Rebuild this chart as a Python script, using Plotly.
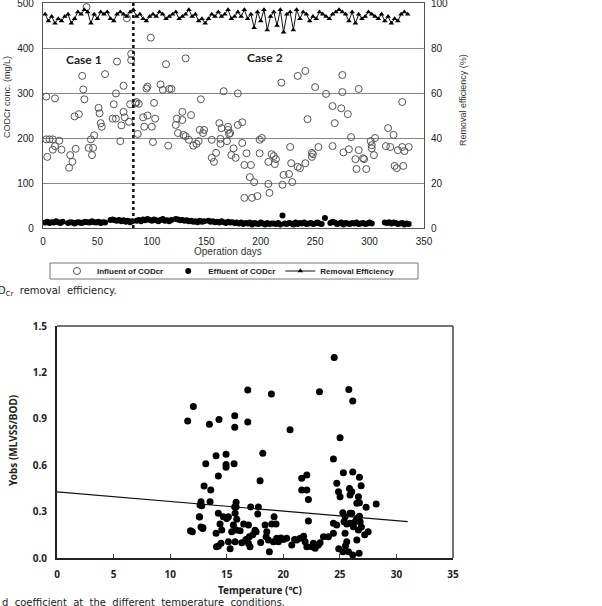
import plotly.graph_objects as go

W, H = 602, 606

# ---------------- Top chart data ----------------
infl_days = [3, 11, 3, 6, 9, 15, 11, 9, 17, 4, 24, 27, 25, 30, 29, 33, 36, 37, 38, 40, 42, 44, 45, 46, 47,
             51, 52, 53, 54, 57, 64, 65, 67, 67, 68, 71, 72, 74, 74, 75, 77, 79, 80, 81, 81, 85, 86, 87, 88,
             92, 93, 95, 96, 96, 99, 100, 101, 102, 103, 108, 110, 113, 115, 116, 118,
             122, 123, 128, 128, 131, 136, 124, 129, 131, 134, 138, 141, 143, 144, 147, 148, 145, 155, 155,
             157, 159, 162, 163, 163, 164, 166, 169, 170, 170, 171, 172, 173, 175, 177, 179, 179, 183, 183,
             185, 185, 187, 190, 191, 192, 194, 197, 199, 199, 201, 207, 207, 208, 210, 212, 213, 214, 219,
             220, 221, 226, 227, 228, 229, 234, 234,
             236, 241, 241, 243, 247, 247, 248, 250, 253, 260, 266, 266, 268, 274, 275, 275, 276, 280, 281,
             283, 287, 288, 290, 290, 294, 295, 297, 301, 302, 302, 304, 305, 315, 317, 319, 322, 323, 325,
             326, 330, 330, 331, 332, 336]
infl_vals = [292, 288, 197, 197, 197, 194, 182, 174, 174, 158, 134, 147, 162, 176, 248, 253, 338, 308, 286, 491,
             178, 197, 162, 178, 206,
             267, 255, 233, 225, 342, 243, 275, 299, 243, 370, 193, 228, 316, 258, 246, 466, 236, 275, 387, 373,
             277, 280, 209, 276,
             246, 225, 310, 314, 250, 423, 225, 191, 278, 243, 319, 307, 364, 183, 309, 309,
             229, 243, 258, 240, 377, 251, 211, 207, 204, 196, 183, 187, 193, 218, 211, 218, 286, 196, 156,
             147, 167, 233, 198, 187, 222, 304, 193, 225, 218, 209, 211, 162, 177, 156, 229, 299, 235, 189,
             140, 67, 166, 113, 140, 67, 102, 71, 196, 166, 200, 147, 98, 78, 164, 160, 142, 153, 323,
             96, 118, 120, 180, 144, 102, 136, 338,
             133, 349, 144, 242, 167, 158, 164, 313, 180, 298, 271, 182, 233, 266, 340, 302, 168, 253, 175,
             202, 153, 131, 309, 173, 155, 153, 131, 193, 184, 177, 162, 200, 182, 222, 180, 207, 138, 133,
             173, 180, 280, 138, 171, 180]

effl_days = [2, 4, 6, 8, 10, 12, 14, 16, 18,
             23, 25, 27, 29, 31, 33, 35, 37, 39, 41, 43, 45, 47, 49, 51, 53, 55, 57,
             62, 64, 66, 68, 70, 72, 74, 76, 78, 80, 82,
             86, 88, 90, 92, 94, 96, 98, 100, 102, 104, 106, 108, 110, 112, 114, 116, 118,
             122, 124, 126, 128, 130, 132, 134, 136, 138, 140, 142, 144, 146, 148,
             152, 154, 156, 158, 160, 162, 164, 166, 168, 170, 172, 174, 176, 178, 180, 182, 184, 186, 188,
             190, 192, 194, 196, 198, 200, 202, 204, 206, 208, 210,
             212, 214, 216, 218, 220, 222, 224, 226, 228, 230, 232, 234, 236, 238, 240, 242, 244, 246, 248,
             250, 252, 254, 256,
             259,
             264, 266, 268, 270, 272, 274, 276, 278, 280, 282, 284, 286, 288, 290, 292, 294, 296, 298, 300, 302,
             314, 316, 318, 320, 322, 324, 326, 328, 330, 332, 334, 336]
effl_vals = [12, 14, 11, 13, 12, 15, 13, 11, 14,
             11, 13, 12, 10, 12, 13, 11, 12, 14, 13, 12, 15, 13, 12, 14, 11, 13, 12,
             18, 19, 17, 16, 18, 15, 17, 14, 16, 13, 15,
             16, 18, 15, 19, 17, 20, 18, 16, 19, 17, 15, 18, 20, 16, 17, 15, 18,
             20, 19, 17, 18, 16, 17, 15, 16, 14, 15, 13, 16, 14, 15,
             16, 14, 15, 13, 14, 12, 15, 13, 11, 14, 12, 13, 11, 12, 10, 12, 9, 11, 10,
             12, 8, 11, 10, 9, 12, 10, 8, 11, 9, 10,
             10, 9, 11, 8, 28, 10, 9, 11, 10, 8, 12, 9, 11, 10, 12, 9, 10, 11, 9,
             10, 12, 10, 9,
             22,
             11, 14, 12, 9, 10, 12, 8, 11, 10, 9, 11, 10, 12, 9, 10, 11, 9, 10, 12, 10,
             12, 11, 13, 10, 12, 11, 9, 10, 11, 8, 10, 9]

eff_days = [2, 5, 8, 11, 14, 17, 20, 23, 26, 29, 32, 35, 38, 41, 44, 47, 50, 53, 56, 59,
            62, 65, 68, 71, 74, 77, 80, 83, 86, 89, 92, 95, 98, 101, 104, 107, 110, 113, 116, 119,
            122, 125, 128, 131, 134, 137, 140, 143, 146, 149, 152, 155, 158, 161, 164, 167, 170, 173, 176, 179,
            182, 185, 188, 191, 194, 197, 200, 203, 206, 209, 212, 215, 218, 221, 224, 227, 230, 233, 236, 239,
            242, 245, 248, 251, 254, 257, 260, 263, 266, 269, 272, 275, 278, 281, 284, 287, 290, 293, 296, 299,
            302, 305, 308, 311, 314, 317, 320, 323, 326, 329, 332, 335]
eff_vals = [95, 92, 94, 91, 93, 92, 94, 95, 91, 93,
            96, 95, 97, 96, 91, 95, 93, 96, 95, 96,
            93, 92, 95, 96, 95, 94, 96, 97, 94, 95,
            93, 92, 94, 95, 94, 96, 95, 93, 94, 95,
            96, 93, 94, 95, 97, 94, 95, 92, 93, 91,
            93, 95, 94, 96, 94, 95, 97, 93, 94, 96,
            94, 97, 93, 95, 89, 96, 92, 97, 88, 94,
            96, 90, 97, 87, 95, 96, 88, 97, 93, 96,
            95, 92, 94, 93, 96, 95, 94, 93, 95, 96,
            97, 96, 95, 92, 96, 91, 95, 93, 94, 96,
            95, 94, 93, 95, 92, 94, 91, 93, 92, 95,
            96, 95]

CASE_SPLIT_DAY = 83
case_labels = ["Case 1", "Case 2"]
case_label_days = [38, 204]
case_label_vals = [375, 378]

# ---------------- Bottom chart data ----------------
temp_vals = [11.55, 12.05, 13.47, 14.32, 15.71, 15.71, 16.86, 16.86, 18.95, 20.6, 23.2, 24.5, 25.79, 26.14, 25.02,
             14.06, 14.94, 18.19, 13.15, 14.94, 14.94, 15.65, 14.26, 17.95, 24.43, 25.31, 26.14, 26.73, 26.88,
             24.73, 24.88, 25.02, 25.85, 26.05, 25.9, 26.64, 26.5, 26.73, 27.32, 28.21, 21.63, 22.08, 21.63,
             22.08, 22.22, 13.0, 13.59, 12.73, 12.79, 13.53, 12.64, 15.83, 15.83, 17.12,
             12.58, 12.73, 11.96, 12.88, 11.8, 12.6, 12.9, 14.26, 14.7, 15.15, 14.41, 15.74, 15.89, 15.59,
             14.06, 14.56, 14.26, 14.5, 15.15, 15.44, 15.83, 16.18, 15.74, 16.33, 16.92, 17.0, 16.92, 17.06,
             17.74, 17.8, 18.39, 18.54, 18.98, 19.36, 19.19, 18.48, 18.68, 18.77, 19.13, 19.42, 19.57, 20.3,
             20.75, 21.19, 21.49, 21.93, 22.22, 22.66, 22.81, 23.1, 23.25, 23.55, 23.99, 22.52, 22.08, 24.43,
             24.72, 24.43, 25.37, 25.46, 25.9, 25.9, 26.2, 25.46, 25.61, 25.26, 25.76, 26.14, 26.5, 26.64,
             26.5, 25.26, 26.05, 26.73, 26.79, 26.35, 25.61,
             14.1, 16.7, 17.3, 18.0, 19.8, 20.0, 21.0, 21.8, 24.9, 25.5, 26.9, 27.2, 27.5, 26.7, 17.5, 16.5,
             15.3, 15.0, 17.6, 15.7]
yobs_vals = [0.885, 0.98, 0.864, 0.896, 0.92, 0.845, 1.086, 0.88, 1.06, 0.83, 1.075, 1.297, 1.09, 1.015, 0.778,
             0.661, 0.67, 0.677, 0.61, 0.605, 0.586, 0.61, 0.53, 0.5, 0.64, 0.551, 0.556, 0.522, 0.467,
             0.483, 0.429, 0.396, 0.45, 0.429, 0.407, 0.396, 0.354, 0.357, 0.328, 0.349, 0.515, 0.537, 0.44,
             0.44, 0.379, 0.465, 0.44, 0.364, 0.338, 0.364, 0.343, 0.36, 0.33, 0.33,
             0.267, 0.2, 0.17, 0.19, 0.176, 0.265, 0.196, 0.289, 0.267, 0.267, 0.22, 0.289, 0.25, 0.213,
             0.16, 0.181, 0.078, 0.095, 0.105, 0.17, 0.181, 0.176, 0.105, 0.099, 0.213, 0.138, 0.095, 0.073,
             0.284, 0.33, 0.213, 0.17, 0.22, 0.22, 0.267, 0.138, 0.116, 0.04, 0.105, 0.127, 0.105, 0.127,
             0.084, 0.116, 0.127, 0.105, 0.239, 0.095, 0.063, 0.084, 0.099, 0.138, 0.138, 0.073, 0.073, 0.224,
             0.213, 0.16, 0.235, 0.267, 0.289, 0.224, 0.202, 0.16, 0.105, 0.04, 0.04, 0.019, 0.256, 0.181,
             0.116, 0.293, 0.289, 0.27, 0.235, 0.235, 0.22,
             0.073, 0.12, 0.15, 0.1, 0.13, 0.12, 0.12, 0.14, 0.06, 0.08, 0.2, 0.15, 0.17, 0.03, 0.18, 0.22,
             0.06, 0.256, 0.17, 0.33]

fit_temp = [0, 31]
fit_yobs = [0.428, 0.235]

# ---------------- Figure ----------------
def px_x(p):
    return p / W

def px_y(p):
    return 1 - p / H

fig = go.Figure()

fig.add_trace(go.Scatter(x=infl_days, y=infl_vals, mode="markers", name="<b>Influent of CODcr</b>",
                         marker=dict(symbol="circle-open", size=7, color="#555", line=dict(width=1, color="#555")),
                         xaxis="x", yaxis="y"))
fig.add_trace(go.Scatter(x=effl_days, y=effl_vals, mode="markers", name="<b>Effluent of CODcr</b>",
                         marker=dict(symbol="circle", size=6, color="#000"),
                         xaxis="x", yaxis="y"))
fig.add_trace(go.Scatter(x=eff_days, y=eff_vals, mode="lines+markers", name="<b>Removal Efficiency</b>",
                         line=dict(color="#111", width=1),
                         marker=dict(symbol="triangle-up", size=5, color="#000"),
                         xaxis="x", yaxis="y2"))

fig.add_trace(go.Scatter(x=temp_vals, y=yobs_vals, mode="markers", showlegend=False,
                         marker=dict(symbol="circle", size=7, color="#000"),
                         xaxis="x3", yaxis="y3"))
fig.add_trace(go.Scatter(x=fit_temp, y=fit_yobs, mode="lines", showlegend=False,
                         line=dict(color="#111", width=1.2),
                         xaxis="x3", yaxis="y3"))

top_font = dict(family="Liberation Sans, Arial", size=10, color="#222")
bot_font = dict(family="Noto Sans, DejaVu Sans", size=10, color="#222", weight="bold")

fig.update_layout(
    width=W, height=H,
    margin=dict(l=0, r=0, t=0, b=0, autoexpand=False),
    paper_bgcolor="white", plot_bgcolor="white",
    showlegend=True,
    legend=dict(orientation="h", x=px_x(57), y=px_y(271), xanchor="left", yanchor="middle",
                borderwidth=0, bgcolor="rgba(0,0,0,0)",
                font=dict(family="Liberation Sans, Arial", size=8, color="#222"),
                tracegroupgap=0, itemwidth=30),
    xaxis=dict(domain=[px_x(43), px_x(424)], range=[0, 350], dtick=50, anchor="y", automargin=False,
               showline=True, mirror=True, linecolor="#555", linewidth=1.2, ticks="",
               showgrid=False, zeroline=False, tickfont=top_font, ticklabelstandoff=4,
               ticklabeloverflow="allow"),
    yaxis=dict(domain=[px_y(228), px_y(3)], range=[0, 500], dtick=100, anchor="x", automargin=False,
               showline=True, mirror=True, linecolor="#555", linewidth=1.2, ticks="",
               showgrid=True, gridcolor="#888", gridwidth=1, zeroline=False, tickfont=top_font,
               ticklabelstandoff=6, ticklabeloverflow="allow"),
    yaxis2=dict(overlaying="y", side="right", anchor="x", range=[0, 100], dtick=20, automargin=False,
                showgrid=False, zeroline=False, showline=False, ticks="", tickfont=top_font,
                ticklabelstandoff=6, ticklabeloverflow="allow"),
    xaxis3=dict(domain=[px_x(57), px_x(453)], range=[0, 35], dtick=5, anchor="y3", automargin=False,
                showline=True, linecolor="#222", linewidth=2, ticks="inside", ticklen=4, tickcolor="#444",
                showgrid=False, zeroline=False, tickfont=bot_font, ticklabelstandoff=6,
                ticklabeloverflow="allow"),
    yaxis3=dict(domain=[px_y(558), px_y(326)], range=[0, 1.5], dtick=0.3, tickformat=".1f", anchor="x3",
                automargin=False,
                showline=True, linecolor="#222", linewidth=2, ticks="",
                showgrid=False, zeroline=False, tickfont=bot_font, ticklabelstandoff=6,
                ticklabeloverflow="allow"),
)

shapes = [
    dict(type="line", xref="x", yref="y", x0=CASE_SPLIT_DAY, x1=CASE_SPLIT_DAY, y0=0, y1=500,
         line=dict(color="#111", width=2.5, dash="dot")),
    # legend frame of top chart
    dict(type="rect", xref="paper", yref="paper", x0=px_x(50), x1=px_x(418), y0=px_y(279), y1=px_y(263),
         line=dict(color="#777", width=1)),
    # top and right frame of bottom chart
    dict(type="line", xref="x3 domain", yref="y3 domain", x0=0, x1=1, y0=1, y1=1,
         line=dict(color="#444", width=1.5)),
    dict(type="line", xref="x3 domain", yref="y3 domain", x0=1, x1=1, y0=0, y1=1,
         line=dict(color="#444", width=1.5)),
]
fig.update_layout(shapes=shapes)

ann = []
for lbl, d, v in zip(case_labels, case_label_days, case_label_vals):
    ann.append(dict(text=f"<b>{lbl}</b>", x=d, y=v, xref="x", yref="y", showarrow=False,
                    xanchor="center", yanchor="middle",
                    font=dict(family="Lato, Open Sans", size=12, color="#222")))


def paper_text(text, xp, yp, font, angle=0, xanchor="center"):
    return dict(text=text, x=px_x(xp), y=px_y(yp), xref="paper", yref="paper", showarrow=False,
                xanchor=xanchor, yanchor="middle", textangle=angle, font=font)


small = dict(family="Liberation Sans, Arial", size=9, color="#333")
ann += [
    paper_text("CODCr conc. (mg/L)", 7, 97, small, angle=-90),
    paper_text("Removal efficiency (%)", 463, 100, small, angle=-90),
    paper_text("Operation days", 228, 252, dict(family="Liberation Sans, Arial", size=10, color="#333")),
    paper_text("D<sub>Cr</sub>  removal  efficiency.", -4, 291,
               dict(family="DejaVu Sans", size=10, color="#222"), xanchor="left"),
    paper_text("<b>Yobs (MLVSS/BOD)</b>", 13, 441,
               dict(family="Noto Sans, DejaVu Sans", size=10, color="#222"), angle=-90),
    paper_text("<b>Temperature (℃)</b>", 260, 590,
               dict(family="Noto Sans, DejaVu Sans", size=10, color="#222")),
    paper_text("d  coefficient  at  the  different  temperature  conditions.", 0, 602,
               dict(family="DejaVu Sans", size=10, color="#222"), xanchor="left"),
]
fig.update_layout(annotations=ann)

fig.write_html("out.html")
